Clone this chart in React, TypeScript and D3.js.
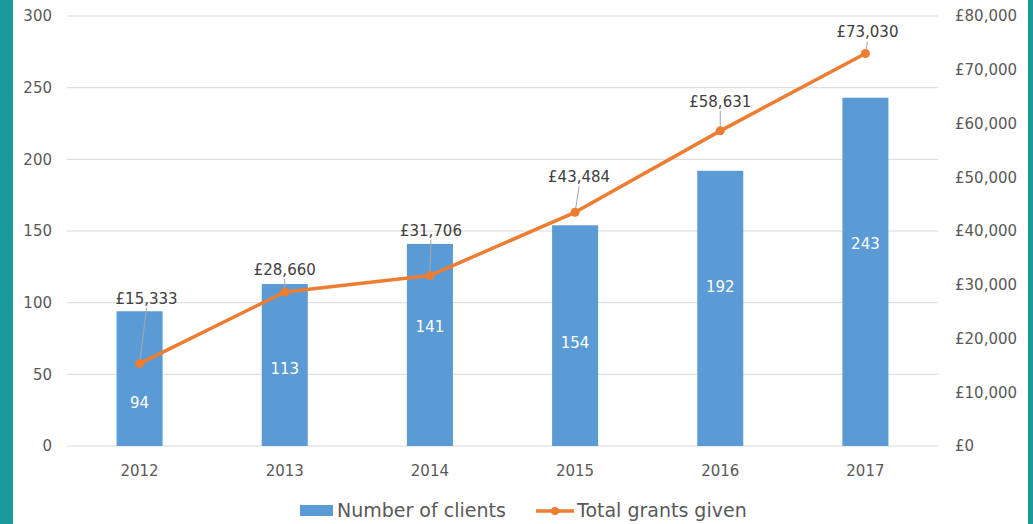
import * as d3 from 'd3';

const years = ['2012', '2013', '2014', '2015', '2016', '2017'];
const clients = [94, 113, 141, 154, 192, 243];
const grants = [15333, 28660, 31706, 43484, 58631, 73030];
const leftTicks = [0, 50, 100, 150, 200, 250, 300];
const rightTicks = [0, 10000, 20000, 30000, 40000, 50000, 60000, 70000, 80000];

const W = 1033;
const H = 524;
const PLOT_L = 67;
const PLOT_R = 938;
const PLOT_T = 16;
const PLOT_B = 446;

const BLUE = '#5B9BD5';
const ORANGE = '#ED7D31';
const TEXT = '#595959';
const TEAL = '#1B9A9B';
const FONT = '"DejaVu Sans", Verdana, sans-serif';

// where each bar label sits, as a fraction of the bar's height
const barLabelFrac = [0.32, 0.475, 0.59, 0.47, 0.58, 0.58];
// line label offsets from the point (baseline), as dragged in the original
const lineLabelOff: [number, number][] = [
  [7, -60], [0, -17], [1, -40], [4, -30], [0, -24], [2, -16],
];

export default function App() {
  const x = d3.scaleBand<string>()
    .domain(years)
    .range([PLOT_L, PLOT_R])
    .paddingInner(0.683)
    .paddingOuter(0.3415);
  const yL = d3.scaleLinear().domain([0, 300]).range([PLOT_B, PLOT_T]);
  const yR = d3.scaleLinear().domain([0, 80000]).range([PLOT_B, PLOT_T]);
  const cx = (d: string) => (x(d) ?? 0) + x.bandwidth() / 2;

  const line = d3.line<number>()
    .x((_, i) => cx(years[i]))
    .y(v => yR(v));

  const fmtMoney = (v: number) => '£' + d3.format(',')(v);

  return (
    <svg width={W} height={H} style={{ position: 'absolute', left: 0, top: 0, background: '#fff' }}>
      <rect x={0} y={0} width={13} height={H} fill={TEAL} />
      <rect x={1028} y={0} width={W - 1028} height={H} fill={TEAL} />

      {leftTicks.map(t => (
        <g key={t}>
          <line x1={PLOT_L} x2={PLOT_R} y1={yL(t)} y2={yL(t)} stroke="#D9D9D9" strokeWidth={1} />
          <text x={52} y={yL(t)} dy="0.36em" textAnchor="end" fontSize={15} fill={TEXT} fontFamily={FONT}>
            {t}
          </text>
        </g>
      ))}
      {rightTicks.map(t => (
        <text key={t} x={955} y={yR(t)} dy="0.36em" fontSize={15} fill={TEXT} fontFamily={FONT}>
          {fmtMoney(t)}
        </text>
      ))}

      {years.map((yr, i) => (
        <g key={yr}>
          <rect
            x={x(yr)}
            y={yL(clients[i])}
            width={x.bandwidth()}
            height={PLOT_B - yL(clients[i])}
            fill={BLUE}
          />
          <text
            x={cx(yr)}
            y={PLOT_B - (PLOT_B - yL(clients[i])) * barLabelFrac[i]}
            dy="0.36em"
            textAnchor="middle"
            fontSize={15}
            fill="#fff"
            fontFamily={FONT}
          >
            {clients[i]}
          </text>
          <text x={cx(yr)} y={476} textAnchor="middle" fontSize={15} fill={TEXT} fontFamily={FONT}>
            {yr}
          </text>
        </g>
      ))}

      <path d={line(grants) ?? ''} fill="none" stroke={ORANGE} strokeWidth={3.5} strokeLinejoin="round" />

      {grants.map((g, i) => {
        const px = cx(years[i]);
        const py = yR(g);
        const [dx, dy] = lineLabelOff[i];
        return (
          <g key={i}>
            <line x1={px + dx} y1={py + dy + 4} x2={px} y2={py} stroke="#A6A6A6" strokeWidth={1} />
            <circle cx={px} cy={py} r={4.5} fill={ORANGE} />
            <text x={px + dx} y={py + dy} textAnchor="middle" fontSize={15} fill="#404040" fontFamily={FONT}>
              {fmtMoney(g)}
            </text>
          </g>
        );
      })}

      <g fontFamily={FONT} fontSize={19} fill={TEXT}>
        <rect x={300} y={505} width={33} height={11} fill={BLUE} />
        <text x={337} y={517}>Number of clients</text>
        <line x1={536} x2={574} y1={511} y2={511} stroke={ORANGE} strokeWidth={3.5} />
        <circle cx={555} cy={511} r={4} fill={ORANGE} />
        <text x={577} y={517}>Total grants given</text>
      </g>
    </svg>
  );
}
